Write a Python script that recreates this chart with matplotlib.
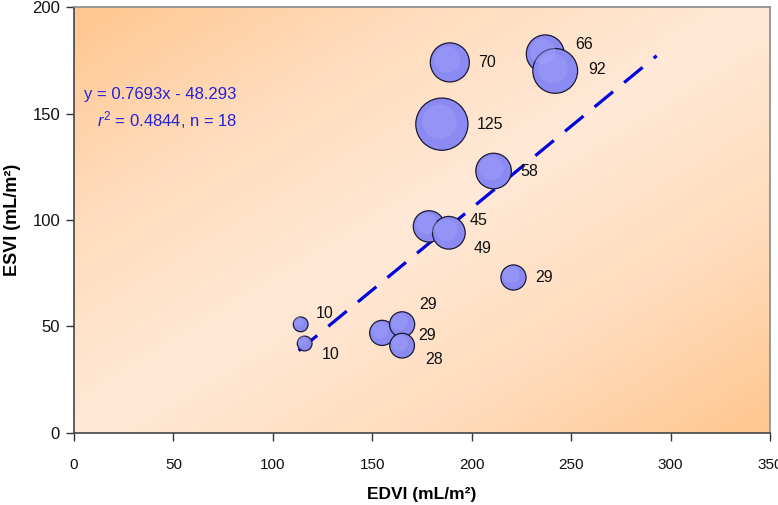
#! /usr/bin/env python3

import matplotlib.pyplot as plt
import numpy as np
from matplotlib.colors import LinearSegmentedColormap

plt.rcParams['font.family'] = ['Liberation Sans', 'DejaVu Sans']
plt.rcParams['mathtext.fontset'] = 'custom'
plt.rcParams['mathtext.rm'] = 'Liberation Sans'
plt.rcParams['mathtext.it'] = 'Liberation Sans:italic'

##
## Bubble data: EDVI, ESVI and the bubble value that is printed beside it
##
edvi = [189, 237, 242, 185, 211, 178.5, 188.5, 221, 114, 116, 155, 165, 165]
esvi = [174, 178, 170, 145, 123, 97, 94, 73, 51, 42, 47, 51, 41]
bubble = [70, 66, 92, 125, 58, 45, 49, 29, 10, 10, 29, 29, 28]

##
## label offsets in points (Excel labels were moved by hand)
##
label_dx = [27, 28, 30, 35, 26, 36, 24, 22, 17, 19, 32, 19, 23]
label_dy = [0, 7, 1, 0, 0, 4, -11, 0, 8, -8, -2, 14, -10]

##
## regression line
##
slope = 0.7693
intercept = -48.293
line_x = np.array([113, 293])

x_ticks = [0, 50, 100, 150, 200, 250, 300, 350]
y_ticks = [0, 50, 100, 150, 200]

figure = plt.figure(figsize=(7.78, 5.05), dpi=100)
ax = figure.add_axes([0.0951, 0.1426, 0.8946, 0.8435])

##
## gradient background: orange corners, light band along the diagonal
##
gx, gy = np.meshgrid(np.linspace(0, 1, 300), np.linspace(0, 1, 300))
shade = np.abs(gx - gy)
bg_cmap = LinearSegmentedColormap.from_list('bg', ['#ffe9d7', '#ffdcbc', '#ffc690'])
ax.imshow(shade, cmap=bg_cmap, origin='lower', extent=[0, 350, 0, 200],
          aspect='auto', zorder=0, interpolation='bilinear')

ax.plot(line_x, slope * line_x + intercept, color='#0000e0', linewidth=2.3,
        dashes=(7.5, 4.5), zorder=3)

sizes = [11.3 * b for b in bubble]
ax.scatter(edvi, esvi, s=sizes, c='#8a8af2', edgecolors='#1a1a33',
           linewidths=0.9, zorder=4)
# soft highlight to imitate the 3-D look of the Excel bubbles
ax.scatter(np.array(edvi) - 1.2, np.array(esvi) + 1.2, s=[5.0 * b for b in bubble],
           c='#a8a8ff', alpha=0.35, linewidths=0, zorder=5)

for x, y, b, dx, dy in zip(edvi, esvi, bubble, label_dx, label_dy):
    ax.annotate(str(b), (x, y), xytext=(dx, dy), textcoords='offset points',
                ha='center', va='center', fontsize=11.5, color='#111111', zorder=6)

ax.text(0.234, 0.795, 'y = 0.7693x - 48.293', transform=ax.transAxes,
        ha='right', va='center', fontsize=12, color='#2222dd')
ax.text(0.234, 0.735, r'$r^2$ = 0.4844, n = 18', transform=ax.transAxes,
        ha='right', va='center', fontsize=12, color='#2222dd')

ax.set_xlim(0, 350)
ax.set_ylim(0, 200)
ax.set_xticks(x_ticks)
ax.set_yticks(y_ticks)
ax.tick_params(direction='out', length=6, width=1, color='#333333',
               labelcolor='#111111')
ax.tick_params(axis='x', labelsize=11, pad=12)
ax.tick_params(axis='y', labelsize=12, pad=4)

for side in ['left', 'bottom']:
    ax.spines[side].set_color('#444444')
    ax.spines[side].set_linewidth(1.2)
for side in ['top', 'right']:
    ax.spines[side].set_color('#8a8a8a')
    ax.spines[side].set_linewidth(1.2)

ax.set_xlabel('EDVI (mL/m²)', fontsize=12.5, fontweight='bold', labelpad=11)
ax.set_ylabel('ESVI (mL/m²)', fontsize=13, fontweight='bold', labelpad=8)

figure.savefig('out.png', dpi=100)
